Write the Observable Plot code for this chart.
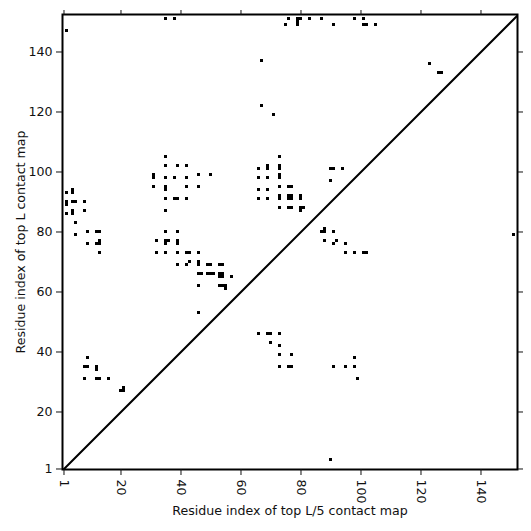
<!DOCTYPE html>
<html>
<head>
<meta charset="utf-8">
<script src="https://cdn.jsdelivr.net/npm/d3@7"></script>
<script src="https://cdn.jsdelivr.net/npm/@observablehq/plot@0.6"></script>
<style>html,body{margin:0;padding:0;background:#fff}svg{display:block}</style>
</head>
<body>
<div id="chart"></div>
<script>
const tickValues = [1, 20, 40, 60, 80, 100, 120, 140];
const diagonal = [1, 152];
const xLabel = "Residue index of top L/5 contact map";
const yLabel = "Residue index of top L contact map";
const rowResidues = [151,150,149,147,137,136,133,122,119,105,102,101,99,98,97,95,94,93,92,91,90,89,88,87,86,83,81,80,79,77,76,73,70,69,66,65,62,61,53,46,43,42,39,38,35,34,31,28,27,4];
const columnResidues = [
  [35,38,76,79,80,83,87,98,101],
  [79],
  [75,79,91,101,102,105],
  [2],
  [67],
  [123],
  [126,127],
  [67],
  [71],
  [35,73],
  [35,39,42,69,73],
  [66,69,73,90,91,94],
  [31,46,50,73],
  [31,35,38,42,66,69,73],
  [90],
  [31,35,42,46,73,76,77],
  [4,35,66,69],
  [2,4],
  [73,76,77,80],
  [35,38,39,42,66,69,73,76,77,80],
  [2,4,5,8],
  [2],
  [73,76,77,80,81],
  [4,8,35,80],
  [2,4],
  [5],
  [88],
  [9,12,13,35,39,87,88,91],
  [5,151],
  [13,32,35,36,39,88,92],
  [9,12,13,35,39,91,95],
  [13,32,35,39,42,43,46,95,98,101,102],
  [43,46],
  [39,42,46,49,50,53,54],
  [46,47,49,50,51,53,54],
  [53,54,57],
  [46,53,54,55],
  [55],
  [46],
  [66,69,70,73],
  [70],
  [73],
  [73,77],
  [9,98],
  [8,9,12,73,76,77,91,95,98],
  [12],
  [8,12,13,16,99],
  [21],
  [20,21],
  [90]
];
const contacts = rowResidues.flatMap((y, i) => columnResidues[i].map(x => ({x, y})));
const font = "'DejaVu Sans', sans-serif";

const plot = Plot.plot({
  width: 531,
  height: 531,
  marginLeft: 62,
  marginRight: 14,
  marginTop: 14,
  marginBottom: 62,
  style: {fontFamily: font, fontSize: "12.6px", color: "#111", background: "#fff"},
  x: {domain: [0.5, 152.167]},
  y: {domain: [0.833, 152.5]},
  marks: [
    Plot.rect(contacts, {
      x1: d => d.x - 0.5, x2: d => d.x + 0.5,
      y1: d => d.y - 0.5, y2: d => d.y + 0.5,
      fill: "black", inset: 0, shapeRendering: "crispEdges"
    }),
    Plot.line(diagonal.map(v => ({v})), {x: "v", y: "v", stroke: "black", strokeWidth: 2}),
    Plot.frame({stroke: "black", strokeWidth: 2}),
    Plot.axisX({anchor: "bottom", ticks: tickValues, tickRotate: 90, tickSize: 6, tickPadding: 4,
      label: xLabel, labelAnchor: "center", labelArrow: "none", labelOffset: 45}),
    Plot.axisX({anchor: "top", ticks: tickValues, tickSize: 5, tickFormat: () => "", label: null}),
    Plot.axisY({anchor: "left", ticks: tickValues, tickSize: 6, tickPadding: 4,
      label: yLabel, labelAnchor: "center", labelArrow: "none", labelOffset: 46}),
    Plot.axisY({anchor: "right", ticks: tickValues, tickSize: 5, tickFormat: () => "", label: null})
  ]
});
document.getElementById("chart").appendChild(plot);
</script>
</body>
</html>
